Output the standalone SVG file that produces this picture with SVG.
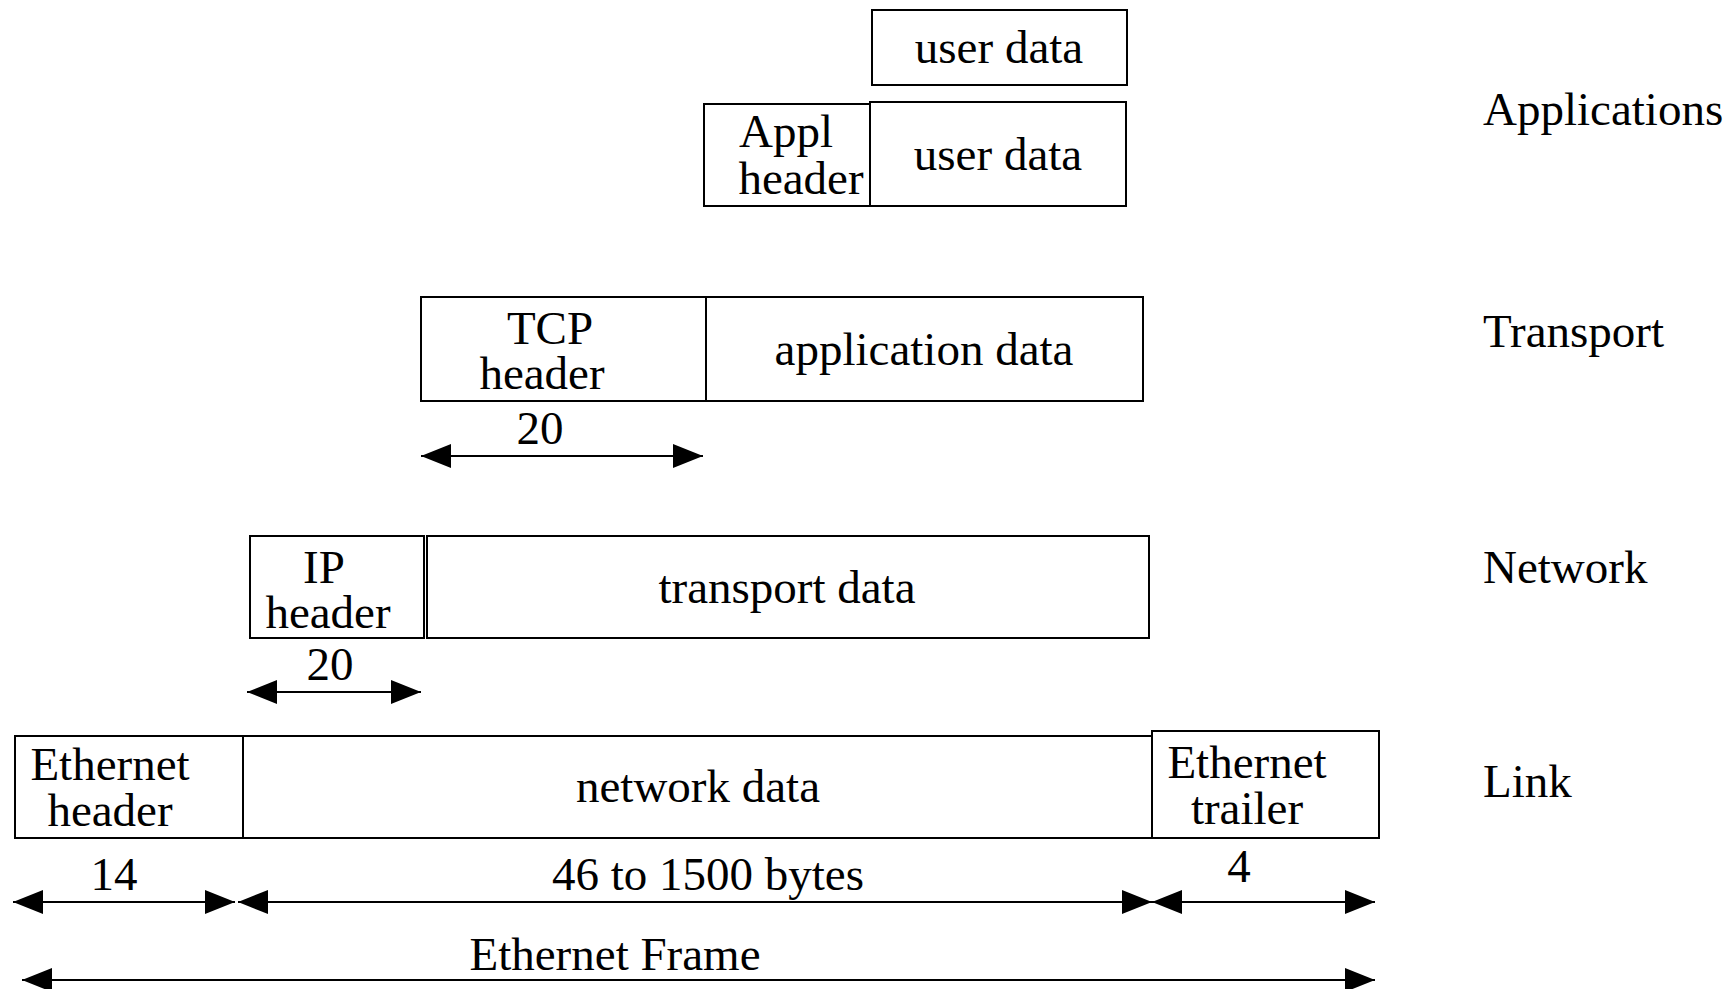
<svg xmlns="http://www.w3.org/2000/svg" width="1731" height="989" viewBox="0 0 1731 989">
<style>
  .box { fill: #fff; stroke: #000; stroke-width: 2; }
  .t { font-family: "Liberation Serif", "Times New Roman", serif; font-size: 47px; fill: #000; }
  .c { text-anchor: middle; }
  .dim { stroke: #000; stroke-width: 2; fill: none; marker-start: url(#ah); marker-end: url(#ah); }
</style>
<defs>
  <marker id="ah" viewBox="0 -12 30 24" refX="30" refY="0" markerWidth="30" markerHeight="24" markerUnits="userSpaceOnUse" orient="auto-start-reverse">
    <path d="M0,-12 L30,0 L0,12 z" fill="#000"/>
  </marker>
</defs>
<rect width="1731" height="989" fill="#fff"/>

<g id="app-userdata">
  <rect class="box" x="872" y="10" width="255" height="75"/>
  <text class="t c" x="999" y="63">user data</text>
</g>
<g id="appl-header">
  <rect class="box" x="704" y="104" width="166" height="102"/>
  <text class="t c" x="786" y="147">Appl</text>
  <text class="t c" x="801" y="194">header</text>
</g>
<g id="appl-userdata">
  <rect class="box" x="870" y="102" width="256" height="104"/>
  <text class="t c" x="998" y="170">user data</text>
</g>

<g id="tcp-header">
  <rect class="box" x="421" y="297" width="285" height="104"/>
  <text class="t c" x="550" y="344">TCP</text>
  <text class="t c" x="542" y="389">header</text>
</g>
<g id="application-data">
  <rect class="box" x="706" y="297" width="437" height="104"/>
  <text class="t c" x="924" y="365">application data</text>
</g>

<g id="ip-header">
  <rect class="box" x="250" y="536" width="174" height="102"/>
  <text class="t c" x="324" y="583">IP</text>
  <text class="t c" x="328" y="628">header</text>
</g>
<g id="transport-data">
  <rect class="box" x="427" y="536" width="722" height="102"/>
  <text class="t c" x="787" y="603">transport data</text>
</g>

<g id="ethernet-header">
  <rect class="box" x="15" y="736" width="228" height="102"/>
  <text class="t c" x="110" y="780">Ethernet</text>
  <text class="t c" x="110" y="826">header</text>
</g>
<g id="network-data">
  <rect class="box" x="243" y="736" width="909" height="102"/>
  <text class="t c" x="698" y="802">network data</text>
</g>
<g id="ethernet-trailer">
  <rect class="box" x="1152" y="731" width="227" height="107"/>
  <text class="t c" x="1247" y="778">Ethernet</text>
  <text class="t c" x="1247" y="824">trailer</text>
</g>

<g id="layer-labels">
  <text class="t" x="1483" y="125">Applications</text>
  <text class="t" x="1483" y="347">Transport</text>
  <text class="t" x="1483" y="583">Network</text>
  <text class="t" x="1483" y="797">Link</text>
</g>

<g id="connectors">
  <line class="dim" x1="421" y1="456" x2="703" y2="456"/>
  <line class="dim" x1="247" y1="692" x2="421" y2="692"/>
  <line class="dim" x1="13" y1="902" x2="235" y2="902"/>
  <line class="dim" x1="238" y1="902" x2="1152" y2="902"/>
  <line class="dim" x1="1152" y1="902" x2="1375" y2="902"/>
  <line class="dim" x1="22" y1="980" x2="1375" y2="980"/>
</g>

<g id="dimension-labels">
  <text class="t c" x="540" y="444">20</text>
  <text class="t c" x="330" y="680">20</text>
  <text class="t c" x="114" y="890">14</text>
  <text class="t c" x="708" y="890">46 to 1500 bytes</text>
  <text class="t c" x="1239" y="882">4</text>
  <text class="t c" x="615" y="970">Ethernet Frame</text>
</g>
</svg>
